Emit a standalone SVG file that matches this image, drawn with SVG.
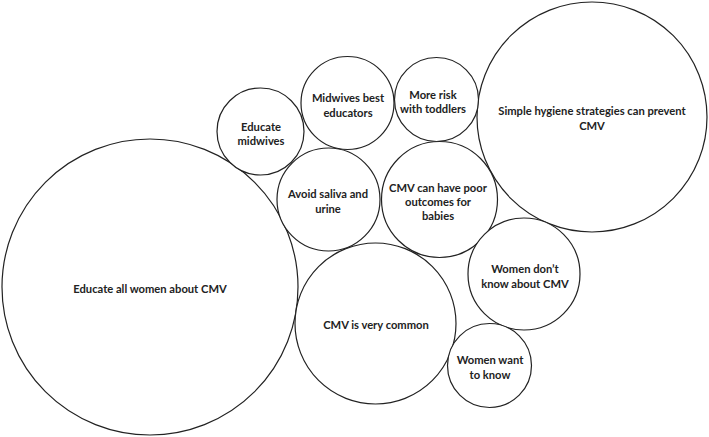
<svg xmlns="http://www.w3.org/2000/svg" width="709" height="437" viewBox="0 0 709 437">
<style>
circle{fill:#fff;stroke:#222;stroke-width:1.2}
text{font-family:Lato,"Liberation Sans",sans-serif;font-size:11.2px;font-weight:bold;fill:#222;text-anchor:middle}
</style>
<rect width="709" height="437" fill="#fff"/>
<g id="connectors"></g>
<g id="n1"><circle cx="150" cy="287" r="148"/><text x="150" y="293">Educate all women about CMV</text></g>
<g id="n2"><circle cx="375.5" cy="323.5" r="80.5"/><text x="376" y="329">CMV is very common</text></g>
<g id="n3"><circle cx="592" cy="117" r="115"/><text x="592" y="114.5">Simple hygiene strategies can prevent</text><text x="592" y="129.5">CMV</text></g>
<g id="n4"><circle cx="260.5" cy="131.5" r="43.5"/><text x="261" y="130.5">Educate</text><text x="261" y="144.5">midwives</text></g>
<g id="n5"><circle cx="347.5" cy="103" r="46.5"/><text x="348" y="101.5">Midwives best</text><text x="348" y="116.5">educators</text></g>
<g id="n6"><circle cx="436.5" cy="99.5" r="42"/><text x="433" y="98.5">More risk</text><text x="433" y="112.5">with toddlers</text></g>
<g id="n7"><circle cx="328.5" cy="199.5" r="51.5"/><text x="328" y="197.5">Avoid saliva and</text><text x="328" y="212.5">urine</text></g>
<g id="n8"><circle cx="439.5" cy="199.5" r="58"/><text x="438" y="191.5">CMV can have poor</text><text x="438" y="206">outcomes for</text><text x="438" y="220">babies</text></g>
<g id="n9"><circle cx="524" cy="274" r="56"/><text x="525" y="272.5">Women don’t</text><text x="525" y="287.5">know about CMV</text></g>
<g id="n10"><circle cx="489.5" cy="365.5" r="42"/><text x="490" y="363.5">Women want</text><text x="490" y="378.5">to know</text></g>
</svg>
